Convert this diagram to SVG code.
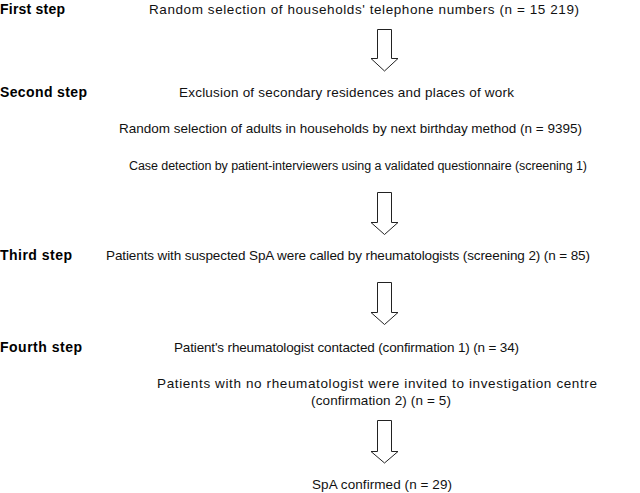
<svg xmlns="http://www.w3.org/2000/svg" width="640" height="493" viewBox="0 0 640 493">
<style>
.step{font-family:"Liberation Sans",Arial,sans-serif;font-size:14px;font-weight:bold;fill:#000}
.t{font-family:"Liberation Sans",Arial,sans-serif;font-size:13.5px;fill:#111}
.arr{fill:#fff;stroke:#222;stroke-width:1}
</style>
<rect width="640" height="493" fill="#fff"/>
<g id="labels">
<text class="step" x="0" y="14" textLength="65">First step</text>
<text class="step" x="0" y="97" textLength="87">Second step</text>
<text class="step" x="0" y="260" textLength="72">Third step</text>
<text class="step" x="0" y="352" textLength="82">Fourth step</text>
</g>
<g id="n1"><text class="t" x="149" y="14" textLength="430">Random selection of households' telephone numbers (n = 15 219)</text></g>
<g id="n2">
<text class="t" x="179" y="97" textLength="335">Exclusion of secondary residences and places of work</text>
<text class="t" x="119" y="133" textLength="463">Random selection of adults in households by next birthday method (n = 9395)</text>
<text class="t" x="129" y="170" textLength="458" style="font-size:12.5px">Case detection by patient-interviewers using a validated questionnaire (screening 1)</text>
</g>
<g id="n3"><text class="t" x="106" y="260" textLength="484">Patients with suspected SpA were called by rheumatologists (screening 2) (n = 85)</text></g>
<g id="n4">
<text class="t" x="174" y="352" textLength="345">Patient's rheumatologist contacted (confirmation 1) (n = 34)</text>
<text class="t" x="157" y="388" textLength="440">Patients with no rheumatologist were invited to investigation centre</text>
<text class="t" x="311" y="405" textLength="140">(confirmation 2) (n = 5)</text>
</g>
<g id="n5"><text class="t" x="312" y="489" textLength="140">SpA confirmed (n = 29)</text></g>
<g id="connectors">
<path class="arr" d="M377.5,29.5 H391.5 V58.5 H398 L384.5,71 L371,58.5 H377.5 Z"/>
<path class="arr" d="M377.5,192.5 H391.5 V222.5 H398 L384.5,234.5 L371,222.5 H377.5 Z"/>
<path class="arr" d="M377.5,282.5 H391.5 V312.5 H398 L384.5,324.5 L371,312.5 H377.5 Z"/>
<path class="arr" d="M377.5,420.5 H391.5 V451.5 H398 L384.5,463 L371,451.5 H377.5 Z"/>
</g>
</svg>
